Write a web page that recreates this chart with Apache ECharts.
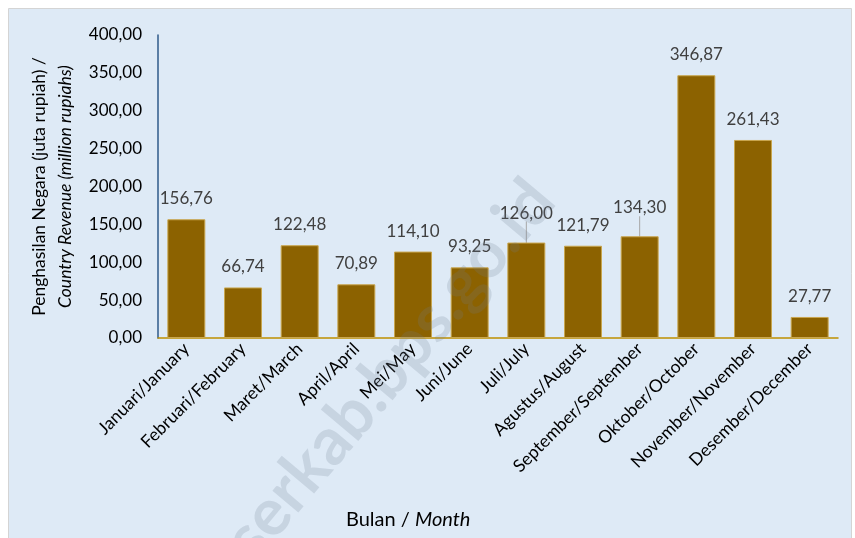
<!DOCTYPE html>
<html>
<head>
<meta charset="utf-8">
<script src="https://cdn.jsdelivr.net/npm/echarts@6/dist/echarts.min.js"></script>
<style>
  html, body { margin: 0; padding: 0; background: #ffffff; }
  #chart { width: 855px; height: 538px; }
</style>
</head>
<body>
<div id="chart"></div>
<script>
// bulan / month
var months = ['Januari/January', 'Februari/February', 'Maret/March', 'April/April', 'Mei/May', 'Juni/June',
  'Juli/July', 'Agustus/August', 'September/September', 'Oktober/October', 'November/November', 'Desember/December'];
// penghasilan negara (juta rupiah)
var revenue = [156.76, 66.74, 122.48, 70.89, 114.10, 93.25, 126.00, 121.79, 134.30, 346.87, 261.43, 27.77];
// labels pushed up with a leader line
var liftedLabels = { 6: -9, 8: -8 };

var fmt = function (v) { return v.toFixed(2).replace('.', ','); };
var font = 'Lato';

var barData = revenue.map(function (v, i) {
  if (liftedLabels[i] !== undefined) {
    return { value: v, labelLine: { show: true, lineStyle: { color: '#A6A6A6', width: 1 } } };
  }
  return v;
});

var myChart = echarts.init(document.getElementById('chart'));
var option = {
  backgroundColor: '#ffffff',
  textStyle: { fontFamily: font },
  graphic: [
    {
      type: 'rect', z: -10, silent: true,
      shape: { x: 8.5, y: 8.5, width: 843, height: 540 },
      style: { fill: '#DEEAF6', stroke: '#D4D4D4', lineWidth: 1 }
    },
    {
      type: 'text', z: 100, silent: true,
      x: 390, y: 370, rotation: Math.PI * 50 / 180,
      style: {
        text: 'serkab.bps.go.id', fill: 'rgba(110,125,145,0.2)',
        font: 'bold 66px ' + font, align: 'center', verticalAlign: 'middle'
      }
    }
  ],
  title: {
    text: '{a|Bulan / }{b|Month}',
    left: 341, top: 505,
    textStyle: {
      fontWeight: 'normal',
      rich: {
        a: { fontFamily: font, fontSize: 20, color: '#000000', fontWeight: 'normal' },
        b: { fontFamily: font, fontSize: 20, color: '#000000', fontWeight: 'normal', fontStyle: 'italic' }
      }
    }
  },
  grid: { left: 158, right: 17, top: 35, bottom: 200, containLabel: false },
  xAxis: {
    type: 'category',
    data: months,
    axisLine: { lineStyle: { color: '#BF9000', width: 1.5 } },
    axisTick: { show: false },
    axisLabel: { rotate: 45, interval: 0, fontSize: 17.5, color: '#000000', fontFamily: font, margin: 8 }
  },
  yAxis: {
    type: 'value',
    min: 0, max: 400, interval: 50,
    name: '{a|Penghasilan Negara (juta rupiah) /}\n{b|Country Revenue (million rupiahs)}',
    nameLocation: 'middle',
    nameRotate: 90,
    nameGap: 80,
    nameTextStyle: {
      rich: {
        a: { fontFamily: font, fontSize: 17.5, color: '#000000', lineHeight: 26 },
        b: { fontFamily: font, fontSize: 17.5, color: '#000000', fontStyle: 'italic', lineHeight: 26 }
      }
    },
    axisLine: { show: true, lineStyle: { color: '#2F5A8A', width: 1.5 } },
    axisTick: { show: false },
    splitLine: { show: false },
    axisLabel: {
      fontSize: 17, color: '#000000', fontFamily: font, margin: 16,
      formatter: function (v) { return fmt(v); }
    }
  },
  series: [{
    type: 'bar',
    data: barData,
    barWidth: '67%',
    itemStyle: { color: '#8C6200', borderColor: '#C9A64E', borderWidth: 1 },
    label: {
      show: true, position: 'top', distance: 12,
      fontSize: 17, color: '#404040', fontFamily: font,
      formatter: function (p) { return fmt(p.value); }
    },
    labelLine: { show: false },
    labelLayout: function (p) {
      if (liftedLabels[p.dataIndex] !== undefined) {
        return { dy: liftedLabels[p.dataIndex] };
      }
      return {};
    }
  }]
};
myChart.setOption(option);
</script>
</body>
</html>
